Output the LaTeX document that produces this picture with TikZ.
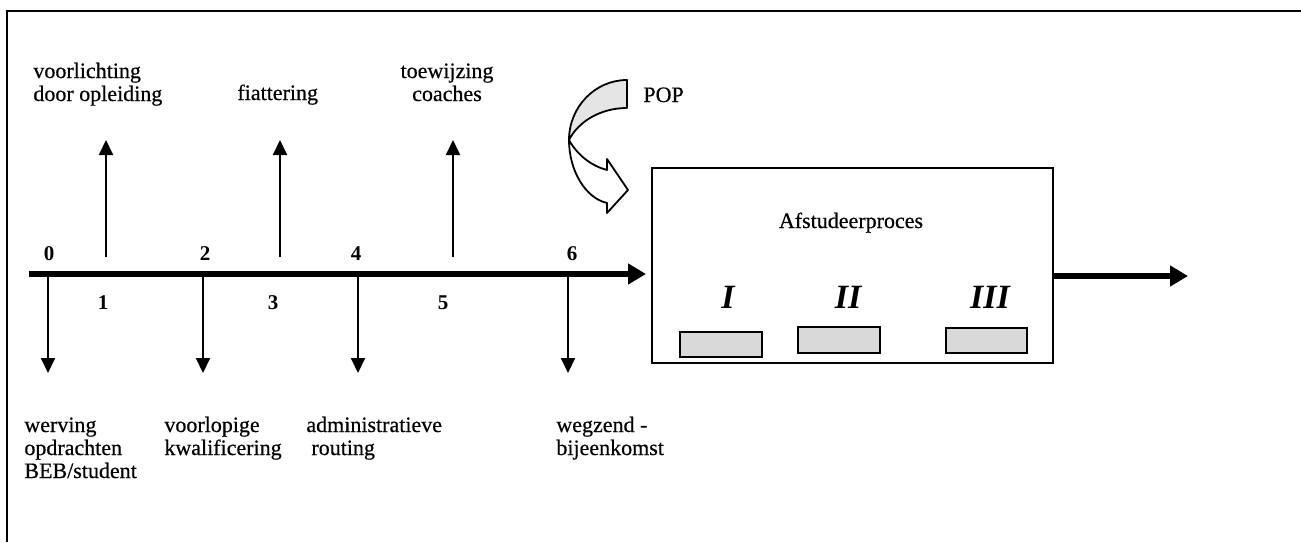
\documentclass[tikz,border=0pt]{standalone}
\usepackage{fontspec}
\setmainfont{Liberation Serif}
\newfontfamily\lblfont{Liberation Serif}[FakeBold=0.5]
\usetikzlibrary{arrows.meta}
\begin{document}
\begin{tikzpicture}[x=0.5pt,y=-0.5pt,
  lbl/.style={inner sep=0pt,font=\lblfont\fontsize{11}{11.5}\selectfont},
  num/.style={inner sep=0pt,font=\bfseries\fontsize{10.5}{12}\selectfont},
  roman/.style={inner sep=0pt,font=\bfseries\itshape\fontsize{17}{20}\selectfont},
  varrow/.style={line width=1pt,-{Triangle[width=7pt,length=7.5pt]}},
  bigarrow/.style={line width=2.7pt,-{Triangle[width=10pt,length=9pt]}},
  framebox/.style={draw,line width=1.2pt,inner sep=0pt,anchor=north west},
  phase/.style={draw,line width=1pt,fill=gray!30,inner sep=0pt,anchor=north west,minimum width=41pt,minimum height=12.5pt},
  ribbon/.style={draw,line width=0.9pt,line join=round}]
\useasboundingbox (0,0) rectangle (1301,542);
% frame
\coordinate (fr1) at (7,542);
\coordinate (fr2) at (7,11);
\coordinate (fr3) at (1301,11);
\draw[line width=0.8pt] (fr1) -- (fr2) -- (fr3);
% timeline
\coordinate (tl0) at (29,274);
\coordinate (tl1) at (646,274);
\draw[bigarrow] (tl0) -- (tl1);
% down arrows
\foreach \x/\n in {48/a,203/b,358/c,568/d}{
  \coordinate (ds\n) at (\x,274);
  \coordinate (de\n) at (\x,373);
  \draw[varrow] (ds\n) -- (de\n);
}
% up arrows
\foreach \x/\n in {106/a,280/b,453/c}{
  \coordinate (us\n) at (\x,257);
  \coordinate (ue\n) at (\x,140);
  \draw[varrow] (us\n) -- (ue\n);
}
% numbers
\node[num,anchor=base] (n0) at (49,260) {0};
\node[num,anchor=base] (n2) at (205,260) {2};
\node[num,anchor=base] (n4) at (356,260) {4};
\node[num,anchor=base] (n6) at (572,260) {6};
\node[num,anchor=base] (n1) at (103,309) {1};
\node[num,anchor=base] (n3) at (273,309) {3};
\node[num,anchor=base] (n5) at (443,309) {5};
% top labels
\node[lbl,anchor=base west] (tA) at (33,78) {\begin{tabular}[t]{@{}l@{}}voorlichting\\door opleiding\end{tabular}};
\node[lbl,anchor=base west] (tB) at (237,100) {fiattering};
\node[lbl,anchor=base] (tC) at (447,78) {\begin{tabular}[t]{@{}c@{}}toewijzing\\coaches\end{tabular}};
% bottom labels
\node[lbl,anchor=base west] (bA) at (24,432) {\begin{tabular}[t]{@{}l@{}}werving\\opdrachten\\BEB/student\end{tabular}};
\node[lbl,anchor=base west] (bB) at (164,432) {\begin{tabular}[t]{@{}l@{}}voorlopige\\kwalificering\end{tabular}};
\node[lbl,anchor=base west] (bC) at (306,432) {\begin{tabular}[t]{@{}l@{}}administratieve\\\hspace*{2.5pt}routing\end{tabular}};
\node[lbl,anchor=base west] (bD) at (556,432) {\begin{tabular}[t]{@{}l@{}}wegzend -\\bijeenkomst\end{tabular}};
% process box
\node[framebox,minimum width=200.5pt,minimum height=97.5pt] (box) at (651,167) {};
\node[lbl,anchor=base] (afst) at (851,228) {Afstudeerproces};
\node[roman,anchor=base] (r1) at (728,308) {I};
\node[roman,anchor=base] (r2) at (848,308) {II};
\node[roman,anchor=base] (r3) at (990,308) {III};
\node[phase] (p1) at (679,331) {};
\node[phase,minimum height=13pt] (p2) at (797,326) {};
\node[phase,minimum width=40.5pt] (p3) at (945,327) {};
% outgoing arrow
\coordinate (oute) at (1188,276);
\draw[bigarrow,line width=3.2pt] (box.east |- oute) -- (oute);
% POP curved arrow
\path[ribbon,fill=gray!20] (627,80) -- (627,108) .. controls (600,108) and (578,122) .. (569,140)
   .. controls (569,107) and (595,80) .. (627,80) -- cycle;
\path[ribbon,fill=white] (569,140) .. controls (578,156) and (592,166) .. (607,170)
   -- (607,159) -- (628,190) -- (607,213) -- (607,203)
   .. controls (585,198) and (569,170) .. (569,140) -- cycle;
\node[lbl,anchor=base west] (pop) at (643,102) {POP};
\end{tikzpicture}
\end{document}
